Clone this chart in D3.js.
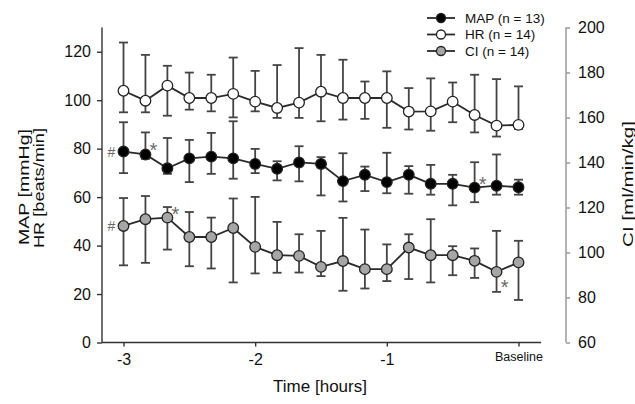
<!DOCTYPE html>
<html>
<head>
<meta charset="utf-8">
<script src="https://cdn.jsdelivr.net/npm/d3@7"></script>
<style>
  html, body { margin: 0; padding: 0; background: #fff; }
  svg { display: block; font-family: "Liberation Sans", Arial, sans-serif; }
</style>
</head>
<body>
<svg id="chart" width="635" height="404"></svg>
<script>
// ---- data ----
const timeMinutes = [-180,-170,-160,-150,-140,-130,-120,-110,-100,-90,-80,-70,-60,-50,-40,-30,-20,-10,0];
const xTickValues = [-3, -2, -1, 0];
const xTickLabels = ["-3", "-2", "-1", "Baseline"];
const leftTicks = [0, 20, 40, 60, 80, 100, 120];
const rightTicks = [60, 80, 100, 120, 140, 160, 180, 200];

const mapMean  = [78.8,77.6,71.9,76.0,76.7,76.0,73.7,71.7,74.3,73.7,66.6,69.2,66.2,69.2,65.5,65.5,63.9,64.7,64.1];
const mapUpper = [90.9,86.7,84.4,83.6,86.5,91.3,79.9,74.8,81.0,76.5,78.1,72.6,78.3,72.8,73.3,69.2,74.4,77.6,67.2];
const mapLower = [69.9,75.8,69.6,66.2,69.6,67.6,69.9,66.9,66.5,60.7,58.2,62.5,61.6,61.4,61.0,56.6,57.9,61.0,61.0];

const hrMean  = [103.9,99.8,106.0,100.9,100.9,102.6,99.4,96.8,99.0,103.5,100.9,100.9,100.9,95.3,95.4,99.4,93.9,89.5,89.8];
const hrUpper = [123.8,118.7,114.2,111.4,110.5,117.6,112.1,114.5,121.5,118.7,116.7,107.7,111.9,105.0,109.0,107.3,110.5,108.7,105.7];
const hrLower = [95.0,95.0,93.6,96.1,95.4,92.9,95.4,92.7,92.7,91.3,92.0,92.3,88.6,87.9,87.4,90.9,86.7,85.0,88.1];

const ciMean  = [111.8,114.8,115.5,106.9,106.9,110.9,102.5,98.8,98.5,93.6,96.2,92.6,92.6,102.2,98.8,98.8,96.3,91.4,95.6];
const ciUpper = [124.2,125.1,120.2,118.0,115.5,124.0,124.7,113.6,108.1,109.6,115.4,110.2,103.6,108.1,114.8,102.8,101.8,109.6,105.2];
const ciLower = [94.3,95.4,101.3,93.9,92.9,86.7,90.7,91.0,91.1,89.5,83.0,84.0,87.3,88.2,86.7,89.9,88.7,82.5,78.9];

const legendLabels = ["MAP (n = 13)", "HR (n = 14)", "CI (n = 14)"];
// annotations: [series, index, placement]
const hashMarks = [["MAP", 0], ["CI", 0]];
const starMarks = [["MAP", 1, "ur"], ["MAP", 16, "ur"], ["CI", 2, "ur"], ["CI", 17, "lr"]];

// ---- layout ----
const svg = d3.select("#chart");
const x = d3.scaleLinear().domain([-3, 0]).range([123.5, 518.5]);
const yL = d3.scaleLinear().domain([0, 130]).range([342.5, 27.5]);
const yR = d3.scaleLinear().domain([60, 200]).range([342.5, 27.5]);

const series = [
  { key: "HR",  mean: hrMean,  up: hrUpper,  lo: hrLower,  y: yL, fill: "#ffffff" },
  { key: "MAP", mean: mapMean, up: mapUpper, lo: mapLower, y: yL, fill: "#000000" },
  { key: "CI",  mean: ciMean,  up: ciUpper,  lo: ciLower,  y: yR, fill: "#a6a6a6" }
];
const byKey = {}; series.forEach(s => byKey[s.key] = s);

const FONT = "Liberation Sans, Arial, sans-serif";
const txt = "#111";

// axes
const axisColor = "#333";
const gx = svg.append("g").attr("transform", "translate(0,342.5)");
gx.append("line").attr("x1", 102).attr("x2", 541).attr("stroke", axisColor).attr("stroke-width", 1.4);
gx.call(d3.axisBottom(x).tickValues(xTickValues).tickSize(4).tickFormat((d, i) => xTickLabels[i]))
  .call(g => g.select(".domain").remove());
gx.selectAll(".tick line").attr("stroke", axisColor).attr("stroke-width", 1.4);
gx.selectAll(".tick text").attr("fill", txt).attr("font-size", 16).attr("dy", "0.95em")
  .attr("font-family", FONT);
gx.selectAll(".tick text").filter(d => d === 0).attr("font-size", 12.5).attr("dy", "0.95em");

const gl = svg.append("g").attr("transform", "translate(102,0)");
gl.call(d3.axisLeft(yL).tickValues(leftTicks).tickSize(5).tickSizeOuter(0).tickPadding(6));
gl.select(".domain").attr("stroke", axisColor).attr("stroke-width", 1.4).attr("d", "M0,27.5V342.5");
gl.selectAll(".tick line").attr("stroke", axisColor).attr("stroke-width", 1.4);
gl.selectAll(".tick text").attr("fill", txt).attr("font-size", 16).attr("font-family", FONT);

const rightColor = "#a0a0a0";
const gr = svg.append("g").attr("transform", "translate(566,0)");
gr.call(d3.axisRight(yR).tickValues(rightTicks).tickSize(4).tickSizeOuter(0).tickPadding(8));
gr.select(".domain").attr("stroke", rightColor).attr("stroke-width", 1.6).attr("d", "M0,27.5V342.5");
gr.selectAll(".tick line").attr("stroke", rightColor).attr("stroke-width", 1.6);
gr.selectAll(".tick text").attr("fill", txt).attr("font-size", 16).attr("font-family", FONT);

// axis titles
function vTitle(cx, cy, label, len, fs) {
  svg.append("text").attr("transform", `translate(${cx},${cy}) rotate(-90)`)
    .attr("text-anchor", "middle").attr("dominant-baseline", "central")
    .attr("font-size", fs).attr("fill", txt)
    .attr("textLength", len).attr("lengthAdjust", "spacingAndGlyphs")
    .text(label);
}
vTitle(24, 187, "MAP [mmHg]", 116, 14.5);
vTitle(39, 188, "HR [beats/min]", 120, 14.5);
vTitle(627, 184, "CI [ml/min/kg]", 126, 15);
svg.append("text").attr("x", 320).attr("y", 386)
  .attr("text-anchor", "middle").attr("dominant-baseline", "central")
  .attr("font-size", 17).attr("fill", txt).text("Time [hours]");

// series
const barColor = "#444";
const lineColor = "#2a2a2a";
const capHalf = 4.5;
series.forEach(s => {
  const g = svg.append("g");
  const idx = d3.range(timeMinutes.length);
  const xs = i => x(timeMinutes[i] / 60);
  const eb = g.selectAll(".eb").data(idx).enter().append("g");
  eb.append("line").attr("x1", xs).attr("x2", xs)
    .attr("y1", i => s.y(s.up[i])).attr("y2", i => s.y(s.lo[i]))
    .attr("stroke", barColor).attr("stroke-width", 1.8);
  eb.append("line").attr("x1", i => xs(i) - capHalf).attr("x2", i => xs(i) + capHalf)
    .attr("y1", i => s.y(s.up[i])).attr("y2", i => s.y(s.up[i]))
    .attr("stroke", barColor).attr("stroke-width", 1.8);
  eb.append("line").attr("x1", i => xs(i) - capHalf).attr("x2", i => xs(i) + capHalf)
    .attr("y1", i => s.y(s.lo[i])).attr("y2", i => s.y(s.lo[i]))
    .attr("stroke", barColor).attr("stroke-width", 1.8);
  const line = d3.line().x(i => xs(i)).y(i => s.y(s.mean[i]));
  g.append("path").attr("d", line(idx)).attr("fill", "none")
    .attr("stroke", lineColor).attr("stroke-width", 1.8);
  g.selectAll("circle").data(idx).enter().append("circle")
    .attr("cx", xs).attr("cy", i => s.y(s.mean[i])).attr("r", 5.3)
    .attr("fill", s.fill).attr("stroke", "#222").attr("stroke-width", 1.3);
});

// annotations
const annColor = "#6a6a6a";
hashMarks.forEach(([k, i]) => {
  const s = byKey[k];
  svg.append("text").attr("x", x(timeMinutes[i] / 60) - 12).attr("y", s.y(s.mean[i]))
    .attr("text-anchor", "middle").attr("dominant-baseline", "central")
    .attr("font-size", 14).attr("fill", annColor).text("#");
});
starMarks.forEach(([k, i, pos]) => {
  const s = byKey[k];
  const cx = x(timeMinutes[i] / 60) + 8;
  const cy = s.y(s.mean[i]) + (pos === "ur" ? -4 : 15);
  svg.append("text").attr("x", cx).attr("y", cy)
    .attr("text-anchor", "middle").attr("dominant-baseline", "central")
    .attr("font-size", 20).attr("fill", annColor).text("*");
});

// legend
const lg = svg.append("g");
const legendFills = ["#000000", "#ffffff", "#a6a6a6"];
const legendY = d3.scalePoint().domain(legendLabels).range([18, 51]);
legendLabels.forEach((lab, i) => {
  const yy = legendY(lab);
  lg.append("line").attr("x1", 427).attr("x2", 455).attr("y1", yy).attr("y2", yy)
    .attr("stroke", lineColor).attr("stroke-width", 1.8);
  lg.append("circle").attr("cx", 441).attr("cy", yy).attr("r", 4.5)
    .attr("fill", legendFills[i]).attr("stroke", "#222").attr("stroke-width", 1.3);
  lg.append("text").attr("x", 465).attr("y", yy).attr("dominant-baseline", "central")
    .attr("font-size", 13.5).attr("fill", txt).text(lab);
});
</script>
</body>
</html>
